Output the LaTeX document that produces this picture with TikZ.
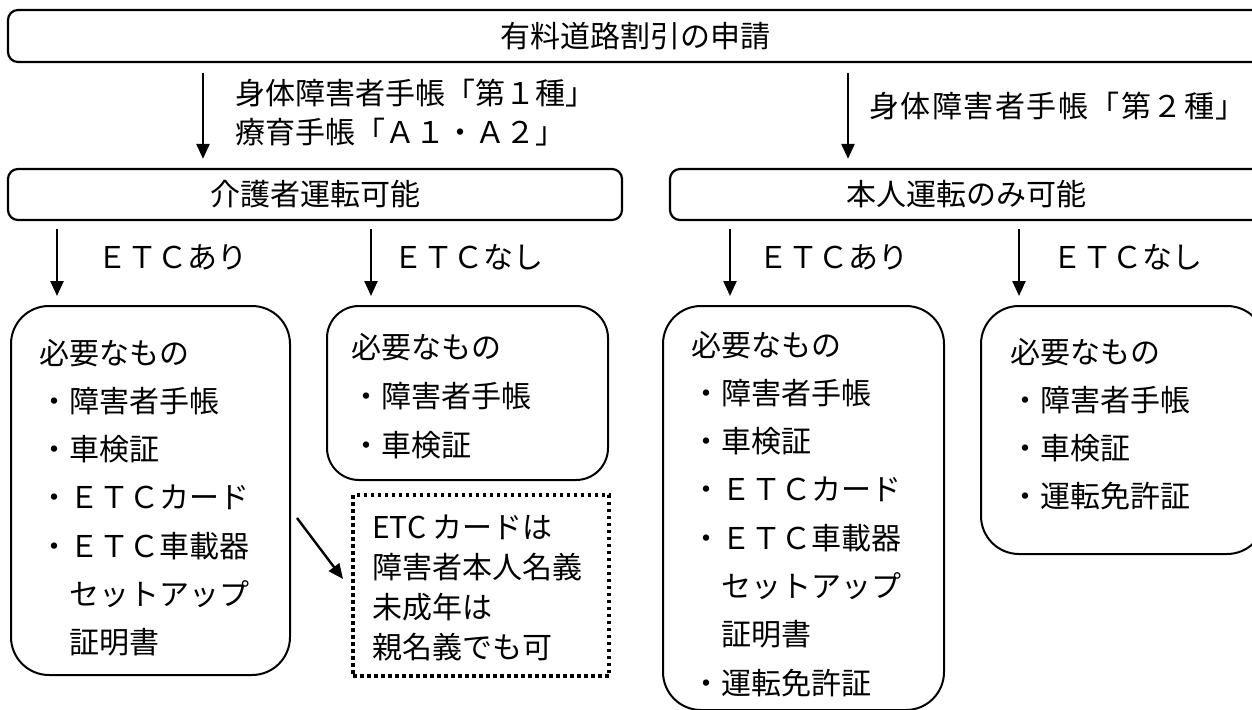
\documentclass[tikz,border=0pt]{standalone}
\usepackage{fontspec}
\newfontfamily\jp{Noto Sans CJK JP}
\usetikzlibrary{arrows.meta}
\begin{document}
\begin{tikzpicture}[x=1pt,y=-1pt,
  jtext/.style={font=\jp\fontsize{30}{36}\selectfont, inner sep=0pt, text height=26pt, text depth=4pt},
  hbox/.style={draw, line width=2.2pt, rounded corners=10pt, inner sep=0pt, font=\jp\fontsize{30}{36}\selectfont},
  rbox/.style={draw, line width=2pt, rounded corners=38pt, inner sep=0pt},
  notebox/.style={draw, line width=4pt, dash pattern=on 3.5pt off 3.5pt, inner sep=0pt},
  arr/.style={line width=2.4pt, -{Triangle[length=15pt,width=13pt]}}
]
\useasboundingbox (0,0) rectangle (1252,709);
% header boxes
\node[hbox, minimum width=1254pt, minimum height=52pt] (top) at (635,36) {有料道路割引の申請};
\node[hbox, minimum width=614pt, minimum height=51pt] (kaigo) at (315,194.5) {介護者運転可能};
\node[hbox, minimum width=592pt, minimum height=51pt] (honnin) at (966,194.5) {本人運転のみ可能};
% x positions of arrows
\coordinate (xa) at (203,0);
\coordinate (xb) at (848,0);
\coordinate (x1) at (57,0);
\coordinate (x2) at (371,0);
\coordinate (x3) at (730,0);
\coordinate (x4) at (1019,0);
% level-1 arrows
\draw[arr] ([yshift=-10pt]top.south -| xa) -- ([yshift=9pt]kaigo.north -| xa);
\draw[arr] ([yshift=-10pt]top.south -| xb) -- ([yshift=9pt]honnin.north -| xb);
\node[jtext, anchor=west] (l1) at (235,93) {身体障害者手帳「第１種」};
\node[jtext, anchor=west] (l2) at (235,132) {療育手帳「Ａ１・Ａ２」};
\node[jtext, anchor=east] (l3) at (1246,106) {\addfontfeature{LetterSpace=5}身体障害者手帳「第２種」};
% result boxes
\node[rbox, minimum width=279pt, minimum height=369pt] (boxA) at (150.5,490.5) {};
\node[rbox, rounded corners=32pt, minimum width=281pt, minimum height=174pt] (boxB) at (467.5,393) {};
\node[rbox, minimum width=281pt, minimum height=404pt] (boxC) at (803.5,508) {};
\node[rbox, minimum width=284pt, minimum height=248pt] (boxD) at (1123,430) {};
\node[notebox, minimum width=256pt, minimum height=181pt] (note) at (481,585.5) {};
% level-2 arrows
\draw[arr] ([yshift=-8pt]kaigo.south -| x1) -- ([yshift=9pt]boxA.north -| x1);
\draw[arr] ([yshift=-8pt]kaigo.south -| x2) -- ([yshift=9pt]boxB.north -| x2);
\draw[arr] ([yshift=-8pt]honnin.south -| x3) -- ([yshift=9pt]boxC.north -| x3);
\draw[arr] ([yshift=-8pt]honnin.south -| x4) -- ([yshift=9pt]boxD.north -| x4);
\node[jtext, anchor=west] (e1) at (97,257) {ＥＴＣあり};
\node[jtext, anchor=west] (e2) at (393,257) {ＥＴＣなし};
\node[jtext, anchor=west] (e3) at (758,257) {ＥＴＣあり};
\node[jtext, anchor=west] (e4) at (1052,257) {ＥＴＣなし};
% box texts
\foreach \t [count=\i] in {必要なもの,・障害者手帳,・車検証,・ＥＴＣカード,・ＥＴＣ車載器,　セットアップ,　証明書}
  \node[jtext, anchor=west] (A\i) at (39,{353+(\i-1)*48.3}) {\t};
\foreach \t [count=\i] in {必要なもの,・障害者手帳,・車検証}
  \node[jtext, anchor=west] (B\i) at (351,{347+(\i-1)*49}) {\t};
\foreach \t [count=\i] in {必要なもの,・障害者手帳,・車検証,・ＥＴＣカード,・ＥＴＣ車載器,　セットアップ,　証明書,・運転免許証}
  \node[jtext, anchor=west] (C\i) at (691,{345+(\i-1)*48.3}) {\t};
\foreach \t [count=\i] in {必要なもの,・障害者手帳,・車検証,・運転免許証}
  \node[jtext, anchor=west] (D\i) at (1010,{352+(\i-1)*48.3}) {\t};
\foreach \t [count=\i] in {ETC カードは,障害者本人名義,未成年は,親名義でも可}
  \node[jtext, anchor=west] (N\i) at (372,{527+(\i-1)*40.3}) {\t};
% note arrow
\coordinate (d1) at (297,518);
\coordinate (d2) at (343,579);
\draw[arr] (d1) -- (d2);
\end{tikzpicture}
\end{document}
